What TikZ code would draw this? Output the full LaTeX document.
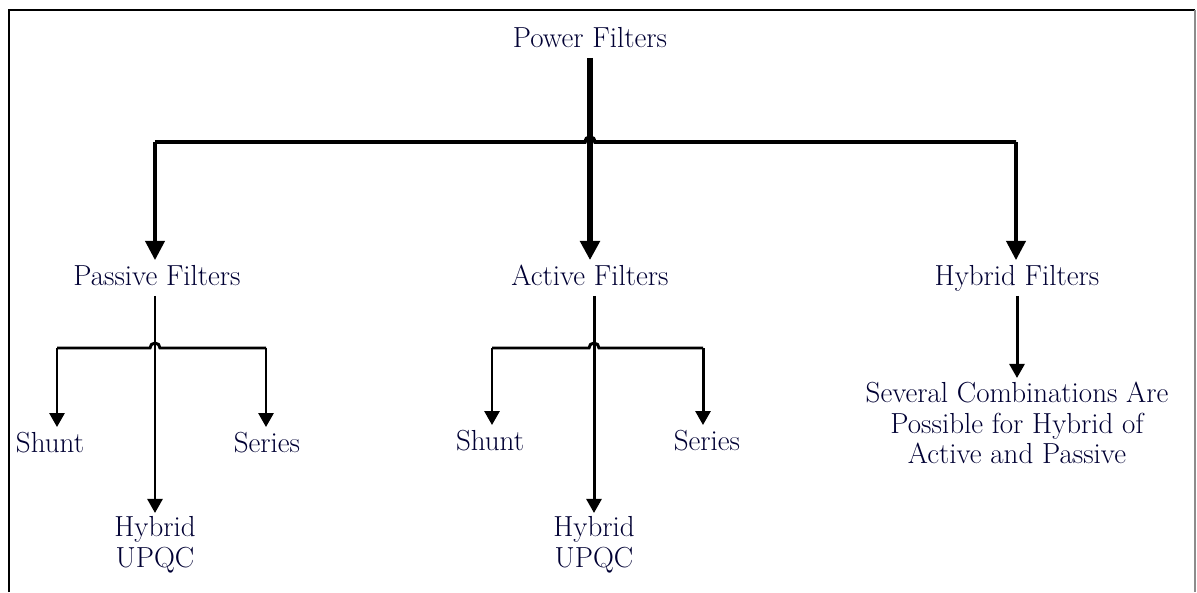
\documentclass[tikz,border=0pt]{standalone}
\usetikzlibrary{arrows.meta, positioning, calc}

\begin{document}
\begin{tikzpicture}[
  x=0.02cm, y=-0.02cm,
  label_node/.style = {text=black!80!blue, font=\fontsize{16.5}{18}\selectfont,
                       inner sep=3pt, text height=11pt, text depth=3pt},
  multi_node/.style = {text=black!80!blue, font=\fontsize{16.5}{17.5}\selectfont,
                       inner sep=2pt, align=center, anchor=north},
  main_line/.style  = {line width=3.3pt},
  bus_line/.style   = {line width=2pt},
  sub_line/.style   = {line width=1.7pt},
  big_arrow/.style  = {-{Triangle[width=11pt, length=11pt]}},
  small_arrow/.style= {-{Triangle[width=8.5pt, length=8pt]}}
]
\useasboundingbox (0,0) rectangle (1197,592);

%--------------------------------------------------
% Frame
%--------------------------------------------------
\draw[line width=1.2pt] (9,592) -- (9,10) -- (1195,10);
\draw[line width=0.6pt, black!45] (1195,10) -- (1195,592);

%--------------------------------------------------
% Filter classes
%--------------------------------------------------
\node[label_node] (pf) at (590,40) {Power Filters};

\node[label_node] (pas) at (157,278) {Passive Filters};
\node[label_node] (act) at (590,278) {Active Filters};
\node[label_node] (hyb) at (1017,278) {Hybrid Filters};

% passive branches
\node[label_node] (psh) at (50,445) {Shunt};
\node[label_node] (pse) at (267,445) {Series};
\node[multi_node] (phu) at (155,513) {Hybrid\\UPQC};

% active branches
\node[label_node] (ash) at (490,443) {Shunt};
\node[label_node] (ase) at (707,443) {Series};
\node[multi_node] (ahu) at (594,513) {Hybrid\\UPQC};

% hybrid combinations
\node[multi_node] (comb) at (1017,378)
  {Several Combinations Are\\Possible for Hybrid of\\Active and Passive};

%--------------------------------------------------
% Bus points
%--------------------------------------------------
\coordinate (bl) at (155,142);
\coordinate (br) at (1016,142);
\coordinate (psl) at (57,348);
\coordinate (psr) at (266,348);
\coordinate (asl) at (492,348);
\coordinate (asr) at (703,348);

%--------------------------------------------------
% Connections
%--------------------------------------------------

% main bus with hop over the trunk
\draw[bus_line] (bl) -- ($(pf.south |- bl)+(-5,0)$)
  arc[start angle=180, end angle=0, radius=0.1cm] -- (br);
\draw[main_line, big_arrow] (pf.south) -- (act.north);
\draw[bus_line, big_arrow] (bl) -- (bl |- pas.north);
\draw[bus_line, big_arrow] (br) -- (br |- hyb.north);

% passive
\draw[sub_line] (psl) -- ($(phu.north |- psl)+(-5,0)$)
  arc[start angle=180, end angle=0, radius=0.1cm] -- (psr);
\draw[sub_line, small_arrow] (phu.north |- pas.south) -- (phu.north);
\draw[sub_line, small_arrow] (psl) -- (psl |- psh.north);
\draw[sub_line, small_arrow] (psr) -- (psr |- pse.north);

% active
\draw[sub_line] (asl) -- ($(ahu.north |- asl)+(-5,0)$)
  arc[start angle=180, end angle=0, radius=0.1cm] -- (asr);
\draw[sub_line, small_arrow] (ahu.north |- act.south) -- (ahu.north);
\draw[sub_line, small_arrow] (asl) -- (asl |- ash.north);
\draw[sub_line, small_arrow] (asr) -- (asr |- ase.north);

% hybrid
\draw[sub_line, small_arrow] (hyb.south) -- (comb.north);

\end{tikzpicture}
\end{document}
